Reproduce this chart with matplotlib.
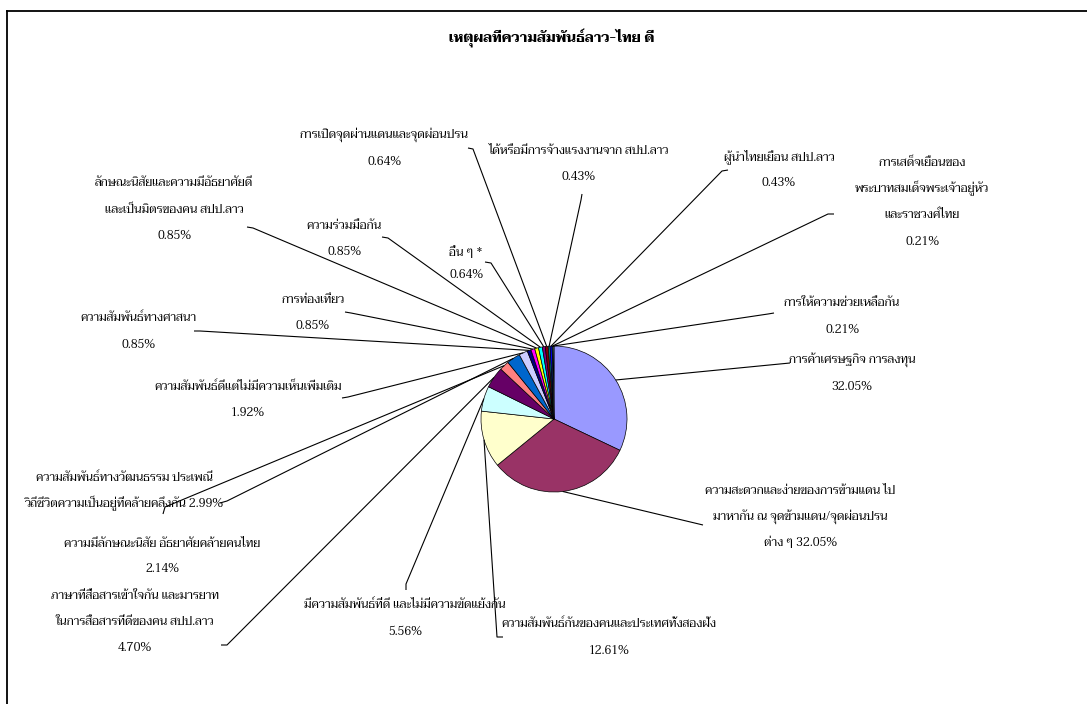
import matplotlib
matplotlib.use("Agg")
import matplotlib.pyplot as plt
from matplotlib import font_manager
from matplotlib.ft2font import FT2Font
import numpy as np

# ---------------- data ----------------
title = "เหตุผลที่ความสัมพันธ์ลาว-ไทย ดี"
categories = [
    "การค้าเศรษฐกิจ การลงทุน",
    "ความสะดวกและง่ายของการข้ามแดน ไป\nมาหากัน ณ จุดข้ามแดน/จุดผ่อนปรน\nต่าง ๆ",
    "ความสัมพันธ์กันของคนและประเทศทั้งสองฝั่ง",
    "มีความสัมพันธ์ที่ดี และไม่มีความขัดแย้งกัน",
    "ภาษาที่สื่อสารเข้าใจกัน และมารยาท\nในการสื่อสารที่ดีของคน สปป.ลาว",
    "ความมีลักษณะนิสัย อัธยาศัยคล้ายคนไทย",
    "ความสัมพันธ์ทางวัฒนธรรม ประเพณี\nวิถีชีวิตความเป็นอยู่ที่คล้ายคลึงกัน",
    "ความสัมพันธ์ดีแต่ไม่มีความเห็นเพิ่มเติม",
    "ความสัมพันธ์ทางศาสนา",
    "การท่องเที่ยว",
    "ลักษณะนิสัยและความมีอัธยาศัยดี\nและเป็นมิตรของคน สปป.ลาว",
    "ความร่วมมือกัน",
    "อื่น ๆ *",
    "การเปิดจุดผ่านแดนและจุดผ่อนปรน",
    "ได้หรือมีการจ้างแรงงานจาก สปป.ลาว",
    "ผู้นำไทยเยือน สปป.ลาว",
    "การเสด็จเยือนของ\nพระบาทสมเด็จพระเจ้าอยู่หัว\nและราชวงศ์ไทย",
    "การให้ความช่วยเหลือกัน",
]
values = [32.05, 32.05, 12.61, 5.56, 4.70, 2.14, 2.99, 1.92,
          0.85, 0.85, 0.85, 0.85, 0.64, 0.64, 0.43, 0.43, 0.21, 0.21]
colors = ["#9999FF", "#993366", "#FFFFCC", "#CCFFFF", "#660066", "#FF8080",
          "#0066CC", "#CCCCFF", "#000080", "#FF00FF", "#FFFF00", "#00FFFF",
          "#800080", "#800000", "#008080", "#0000FF", "#00CCFF", "#CCFFFF"]

# ---------------- layout (pixel positions, y from top) ----------------
W, H = 1087, 704
CX, CY, R = 554, 419, 73
# per label: text centre x, y of each line, pct inline?, leader elbow, leader end
label_layout = [
    (852, [360, 387], False, (790, 363), (790, 363)),
    (800, [491, 517, 542], True, (703, 525), (703, 525)),
    (609, [624, 651], False, (497, 637), (503, 637)),
    (405, [605, 632], False, (406, 584), (406, 590)),
    (135, [596, 622, 648], False, (227, 645), (221, 645)),
    (162, [544, 569], False, (165, 507), (163, 514)),
    (124, [478, 503], True, (227, 501), (220, 503)),
    (248, [387, 413], False, (348, 397), (342, 398)),
    (138, [318, 345], False, (200, 331), (194, 331)),
    (313, [300, 326], False, (351, 313), (345, 312)),
    (174, [183, 210, 236], False, (253, 228), (247, 227)),
    (344, [226, 252], False, (388, 238), (382, 237)),
    (466, [252, 275], False, (491, 263), (485, 262)),
    (384, [135, 162], False, (473, 149), (468, 148)),
    (579, [151, 177], False, (581, 200), (582, 194)),
    (779, [157, 183], False, (722, 171), (728, 170)),
    (922, [163, 188, 215, 242], False, (828, 214), (834, 214)),
    (842, [303, 330], False, (768, 314), (774, 313)),
]


def Y(y):
    return H - y


# ---------------- font with Thai glyphs ----------------
thai_names = set()
seen = set()
for f in font_manager.fontManager.ttflist:
    if f.fname in seen:
        continue
    seen.add(f.fname)
    try:
        cm = FT2Font(f.fname).get_charmap()
    except Exception:
        continue
    if 0x0E01 in cm and 0x0E32 in cm:
        thai_names.add(f.name)

pref = ["Angsana New", "Taviraj", "Trirong", "Noto Serif Thai", "FreeSerif", "Pridi",
        "Maitree", "Norasi", "Kinnari", "Sarabun", "Noto Sans Thai", "Loma"]
thai_family = next((p for p in pref if p in thai_names), None)
if thai_family is None and thai_names:
    thai_family = sorted(thai_names)[0]
family = [thai_family, "DejaVu Sans"] if thai_family else ["DejaVu Sans"]
plt.rcParams["font.family"] = family

# ---------------- figure ----------------
fig = plt.figure(figsize=(W / 100, H / 100), dpi=100)
ax = fig.add_axes([0, 0, 1, 1])
wedges, _ = ax.pie(values, colors=colors, startangle=90, counterclock=False,
                   center=(CX, Y(CY)), radius=R,
                   wedgeprops=dict(edgecolor="black", linewidth=0.5))
ax.set_xlim(0, W)
ax.set_ylim(0, H)
ax.set_aspect("equal")
ax.axis("off")

fs = 8.5
for w, cat, v, lay in zip(wedges, categories, values, label_layout):
    tx, ys, inline, elbow, end = lay
    lines = cat.split("\n")
    pct = f"{v:.2f}%"
    if inline:
        lines[-1] = lines[-1] + " " + pct
    else:
        lines.append(pct)
    for line, ly in zip(lines, ys):
        ax.text(tx, Y(ly), line, ha="center", va="center", fontsize=fs, color="black")
    th = np.deg2rad((w.theta1 + w.theta2) / 2)
    sx = w.center[0] + w.r * np.cos(th)
    sy = w.center[1] + w.r * np.sin(th)
    ax.plot([sx, elbow[0], end[0]], [sy, Y(elbow[1]), Y(end[1])],
            color="black", linewidth=0.8, solid_capstyle="butt")

ax.text(552, Y(38), title, ha="center", va="center", fontsize=10, fontweight="bold")

# chart-area frame: only its left and top edges are inside the picture
ax.plot([7, 7], [0, Y(11)], color="black", linewidth=1.3)
ax.plot([7, W], [Y(11), Y(11)], color="black", linewidth=1.3)

fig.savefig("out.png", dpi=100)
